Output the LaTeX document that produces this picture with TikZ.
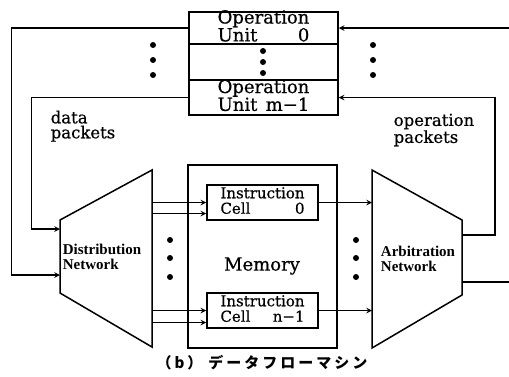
\documentclass[tikz,border=0pt]{standalone}
\usepackage{fontspec}
\setmainfont{DejaVu Serif}[FakeBold=0.6]
\newfontfamily\netfont{Liberation Serif}
\newfontfamily\jpfont[LetterSpace=20]{Noto Sans CJK JP}
\usepackage{tikz}

\newcommand{\twoline}[3]{\begin{tabular}{@{}l@{}}#1\\#2\hfill#3\end{tabular}}

\begin{document}
\begin{tikzpicture}[
    x=1pt, y=-1pt,
    >=stealth,
    line width=1.5pt,
    unitbox/.style={draw, rectangle, minimum width=149pt, inner sep=0pt},
    unittext/.style={font=\fontsize{18}{15}\selectfont},
    cellbox/.style={draw, rectangle, minimum width=111pt, minimum height=35pt, inner sep=0pt},
    celltext/.style={font=\fontsize{15}{13.5}\selectfont},
    membox/.style={draw, rectangle, minimum width=149pt, minimum height=183pt},
    packet/.style={anchor=north west, align=left, inner sep=0pt, font=\fontsize{16.5}{15}\selectfont},
    netlabel/.style={align=left, inner sep=0pt, font=\netfont\bfseries\fontsize{15}{14.5}\selectfont}
]
    \useasboundingbox (0,0) rectangle (509,376);

    % Operation Units
    \node[unitbox, minimum height=32pt, label={[unittext]center:\twoline{Operation}{Unit}{0}}] (opu0) at (263.5,28) {};
    \node[unitbox, minimum height=36pt] (opud) at (263.5,62) {};
    \node[unitbox, minimum height=35pt, label={[unittext]center:\twoline{Operation}{Unit}{m−1}}] (opum) at (263.5,97.5) {};

    \fill (153,45) circle (3pt) (153,60) circle (3pt) (153,75) circle (3pt);
    \fill (263,51) circle (3pt) (263,62) circle (3pt) (263,73) circle (3pt);
    \fill (373,45) circle (3pt) (373,60) circle (3pt) (373,75) circle (3pt);

    \node[packet] (datapk) at (50,110) {data\\packets};
    \node[packet] (oppk) at (393,113) {operation\\packets};

    % Memory
    \node[membox] (mem) at (262.5,256.5) {};
    \node[font=\fontsize{18}{18}\selectfont] (memlabel) at (262,266) {Memory};
    \node[cellbox, label={[celltext]center:\twoline{Instruction}{Cell}{0}}] (cell0) at (262.5,202.5) {};
    \node[cellbox, label={[celltext]center:\twoline{Instruction}{Cell}{n−1}}] (celln) at (262.5,310.5) {};

    % Distribution Network
    \coordinate (dnw) at (60,220);
    \coordinate (dne) at (152,170);
    \coordinate (dse) at (152,347);
    \coordinate (dsw) at (60,293);
    \draw (dnw) -- (dne) -- (dse) -- (dsw) -- cycle;
    \node[netlabel] (dist) at (102,257) {Distribution\\Network};
    \coordinate (din1) at (60,229);
    \coordinate (din2) at (60,275);

    % Arbitration Network
    \coordinate (anw) at (372,170);
    \coordinate (ane) at (462,220);
    \coordinate (ase) at (462,295);
    \coordinate (asw) at (372,348);
    \draw (anw) -- (ane) -- (ase) -- (asw) -- cycle;
    \node[netlabel] (arb) at (418,259) {Arbitration\\Network};
    \coordinate (aout1) at (462,235);
    \coordinate (aout2) at (462,282);

    \fill (170,240) circle (3pt) (170,258) circle (3pt) (170,277) circle (3pt);
    \fill (356,240) circle (3pt) (356,258) circle (3pt) (356,277) circle (3pt);

    % Distribution to cells
    \draw[->] (cell0.west -| dne) -- (cell0.west);
    \draw[->] ([yshift=-11pt]cell0.west -| dne) -- ([yshift=-11pt]cell0.west);
    \draw[->] (celln.west -| dne) -- (celln.west);
    \draw[->] ([yshift=-12pt]celln.west -| dne) -- ([yshift=-12pt]celln.west);

    % Cells to arbitration
    \draw[->] (cell0.east) -- (cell0.east -| anw);
    \draw[->] (celln.east) -- (celln.east -| anw);

    % Loops
    \draw[->] (opu0.west) -- ++(-177,0) |- (din2);
    \draw[->] (opum.west) -- ++(-157,0) |- (din1);
    \draw[->] (aout1) -- ++(33,0) |- (opum.east);
    \draw (aout2) -- ++(47,0);
    \coordinate (fb) at (509,28);
    \draw[->] (fb) -- (opu0.east);

    \node (caption) at (262,363) {\jpfont\bfseries\fontsize{15}{15}\selectfont （b）\hspace{6pt}データフローマシン};

\end{tikzpicture}
\end{document}
